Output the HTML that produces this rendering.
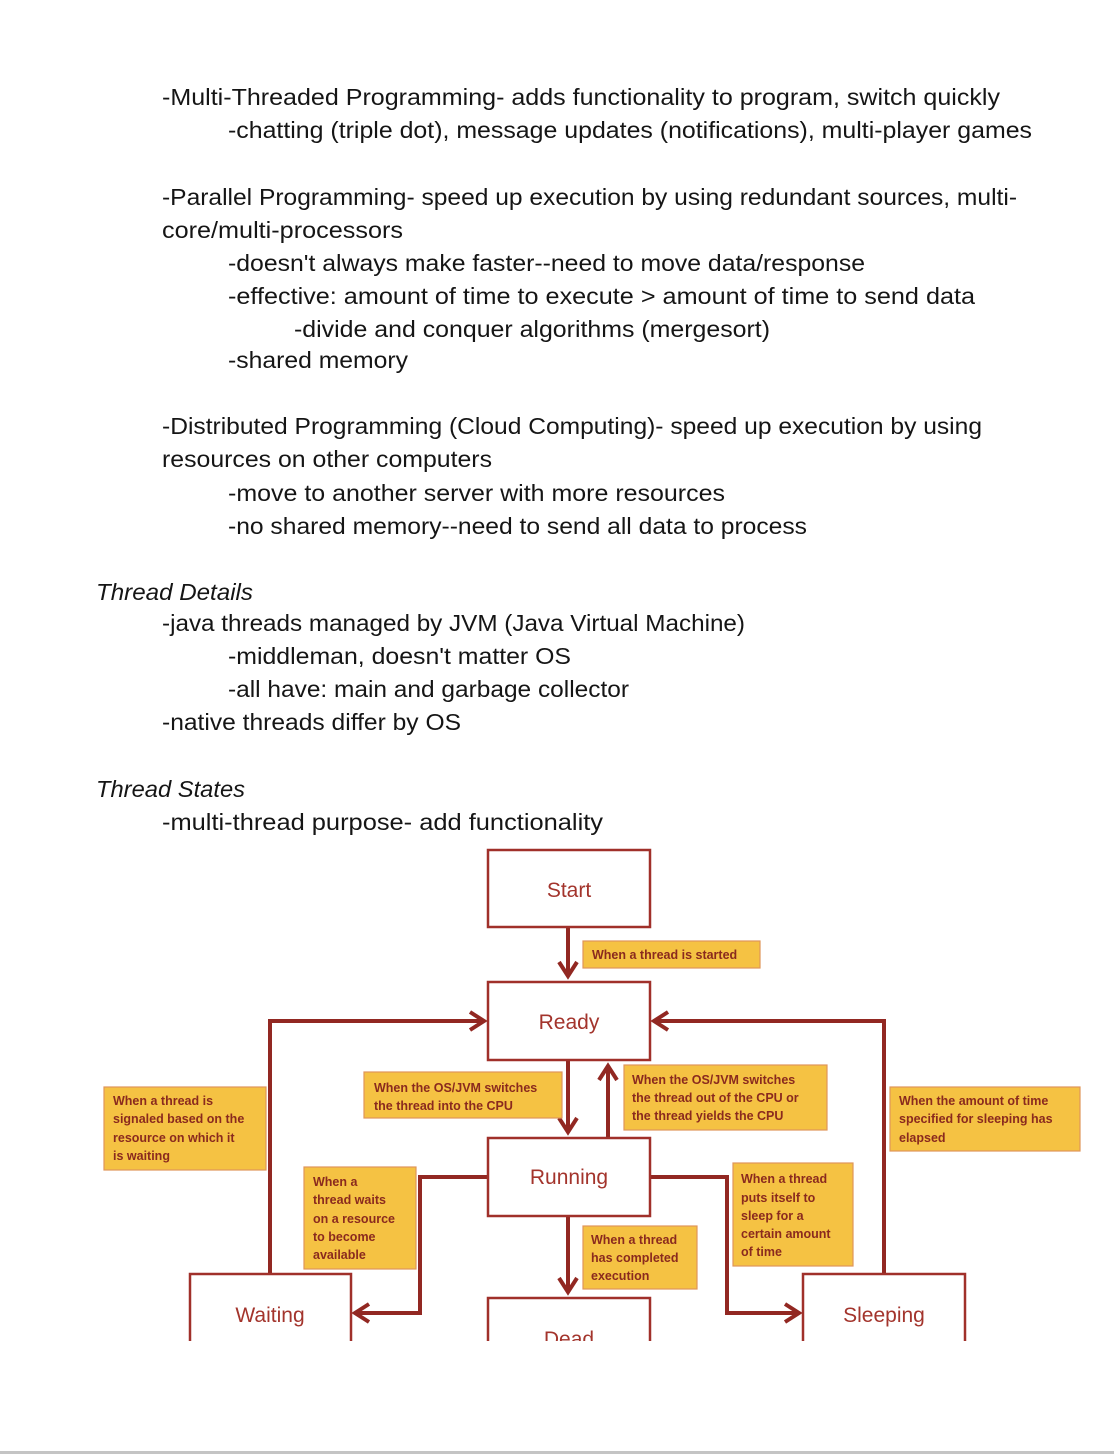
<!DOCTYPE html>
<html><head><meta charset="utf-8"><style>
html,body{margin:0;padding:0;background:#fff;}
svg{display:block}
.t{font-family:"Liberation Sans",sans-serif;font-size:23px;fill:#151515}
.i{font-style:italic}
.n{font-family:"Liberation Sans",sans-serif;font-size:21px;fill:#a3342c}
.l{font-family:"Liberation Sans",sans-serif;font-size:12.5px;font-weight:bold;fill:#8a2a1e}
.b{fill:#fff;stroke:#a0302a;stroke-width:2.5}
.y{fill:#f5c243;stroke:#e0955a;stroke-width:1.2}
.c{fill:none;stroke:#922822;stroke-width:4}
</style></head><body>
<svg width="1114" height="1454" viewBox="0 0 1114 1454">
<g class="t">
<text x="162" y="105" textLength="838" lengthAdjust="spacingAndGlyphs">-Multi-Threaded Programming- adds functionality to program, switch quickly</text>
<text x="228" y="138" textLength="804" lengthAdjust="spacingAndGlyphs">-chatting (triple dot), message updates (notifications), multi-player games</text>
<text x="162" y="205" textLength="855" lengthAdjust="spacingAndGlyphs">-Parallel Programming- speed up execution by using redundant sources, multi-</text>
<text x="162" y="238" textLength="241" lengthAdjust="spacingAndGlyphs">core/multi-processors</text>
<text x="228" y="271" textLength="637" lengthAdjust="spacingAndGlyphs">-doesn't always make faster--need to move data/response</text>
<text x="228" y="304" textLength="747" lengthAdjust="spacingAndGlyphs">-effective: amount of time to execute &gt; amount of time to send data</text>
<text x="294" y="337" textLength="476" lengthAdjust="spacingAndGlyphs">-divide and conquer algorithms (mergesort)</text>
<text x="228" y="368" textLength="180" lengthAdjust="spacingAndGlyphs">-shared memory</text>
<text x="162" y="434" textLength="820" lengthAdjust="spacingAndGlyphs">-Distributed Programming (Cloud Computing)- speed up execution by using</text>
<text x="162" y="467" textLength="330" lengthAdjust="spacingAndGlyphs">resources on other computers</text>
<text x="228" y="501" textLength="497" lengthAdjust="spacingAndGlyphs">-move to another server with more resources</text>
<text x="228" y="534" textLength="579" lengthAdjust="spacingAndGlyphs">-no shared memory--need to send all data to process</text>
<text class="i" x="96" y="600" textLength="157" lengthAdjust="spacingAndGlyphs">Thread Details</text>
<text x="162" y="631" textLength="583" lengthAdjust="spacingAndGlyphs">-java threads managed by JVM (Java Virtual Machine)</text>
<text x="228" y="664" textLength="343" lengthAdjust="spacingAndGlyphs">-middleman, doesn't matter OS</text>
<text x="228" y="697" textLength="401" lengthAdjust="spacingAndGlyphs">-all have: main and garbage collector</text>
<text x="162" y="730" textLength="299" lengthAdjust="spacingAndGlyphs">-native threads differ by OS</text>
<text class="i" x="96" y="797" textLength="149" lengthAdjust="spacingAndGlyphs">Thread States</text>
<text x="162" y="830" textLength="441" lengthAdjust="spacingAndGlyphs">-multi-thread purpose- add functionality</text>
</g>
<defs><clipPath id="cp"><rect x="0" y="840" width="1114" height="501"/></clipPath></defs>
<g clip-path="url(#cp)">
<!-- connectors -->
<path class="c" d="M568 927V976M559 962l9 14 9-14"/>
<path class="c" d="M270 1276V1021H484M470 1012l14 9-14 9"/>
<path class="c" d="M884 1276V1021H654M668 1012l-14 9 14 9"/>
<path class="c" d="M568 1060V1132M559 1118l9 14 9-14"/>
<path class="c" d="M608 1138V1066M599 1080l9-14 9 14"/>
<path class="c" d="M488 1177H420V1313H355M369 1304l-14 9 14 9"/>
<path class="c" d="M650 1177H727V1313H799M785 1304l14 9-14 9"/>
<path class="c" d="M568 1216V1292M559 1278l9 14 9-14"/>
<!-- nodes -->
<rect class="b" x="488" y="850" width="162" height="77"/>
<text class="n" x="569" y="897" text-anchor="middle">Start</text>
<rect class="b" x="488" y="982" width="162" height="78"/>
<text class="n" x="569" y="1029" text-anchor="middle">Ready</text>
<rect class="b" x="488" y="1138" width="162" height="78"/>
<text class="n" x="569" y="1184" text-anchor="middle">Running</text>
<rect class="b" x="190" y="1274" width="161" height="100"/>
<text class="n" x="270" y="1322" text-anchor="middle">Waiting</text>
<rect class="b" x="488" y="1298" width="162" height="100"/>
<text class="n" x="569" y="1346" text-anchor="middle">Dead</text>
<rect class="b" x="803" y="1274" width="162" height="100"/>
<text class="n" x="884" y="1322" text-anchor="middle">Sleeping</text>
<!-- labels -->
<g class="l">
<rect class="y" x="583" y="941" width="177" height="27"/>
<text x="592" y="959">When a thread is started</text>
<rect class="y" x="364" y="1072" width="198" height="46"/>
<text x="374" y="1092">When the OS/JVM switches</text><text x="374" y="1110">the thread into the CPU</text>
<rect class="y" x="624" y="1065" width="203" height="65"/>
<text x="632" y="1084">When the OS/JVM switches</text><text x="632" y="1102">the thread out of the CPU or</text><text x="632" y="1120">the thread yields the CPU</text>
<rect class="y" x="104" y="1087" width="162" height="83"/>
<text x="113" y="1105">When a thread is</text><text x="113" y="1123">signaled based on the</text><text x="113" y="1142">resource on which it</text><text x="113" y="1160">is waiting</text>
<rect class="y" x="890" y="1087" width="190" height="64"/>
<text x="899" y="1105">When the amount of time</text><text x="899" y="1123">specified for sleeping has</text><text x="899" y="1142">elapsed</text>
<rect class="y" x="304" y="1167" width="112" height="102"/>
<text x="313" y="1186">When a</text><text x="313" y="1204">thread waits</text><text x="313" y="1223">on a resource</text><text x="313" y="1241">to become</text><text x="313" y="1259">available</text>
<rect class="y" x="733" y="1163" width="120" height="103"/>
<text x="741" y="1183">When a thread</text><text x="741" y="1202">puts itself to</text><text x="741" y="1220">sleep for a</text><text x="741" y="1238">certain amount</text><text x="741" y="1256">of time</text>
<rect class="y" x="583" y="1226" width="114" height="63"/>
<text x="591" y="1244">When a thread</text><text x="591" y="1262">has completed</text><text x="591" y="1280">execution</text>
</g>
</g>
<rect x="0" y="1451" width="1114" height="3" fill="#c4c4c4"/>
</svg>
</body></html>
